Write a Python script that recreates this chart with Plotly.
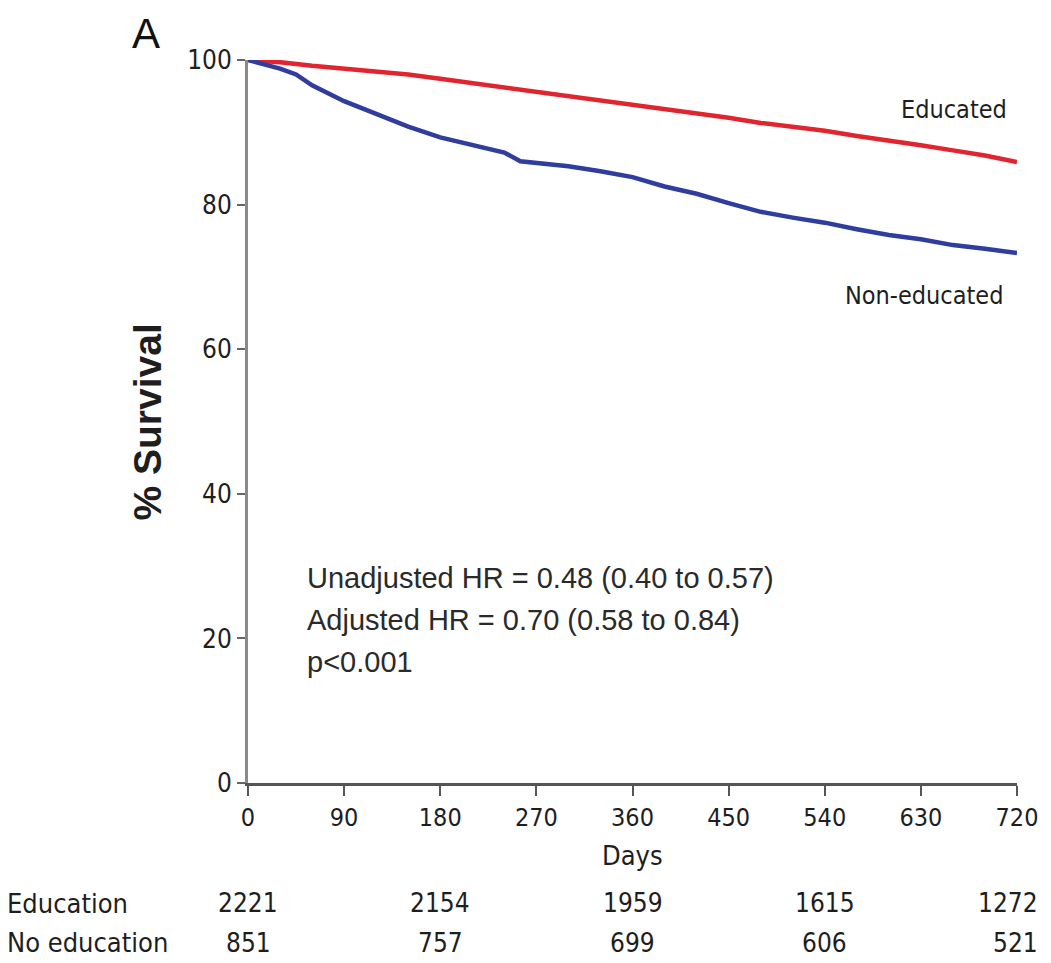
import plotly.graph_objects as go

# Kaplan-Meier survival estimates
days_edu = [0, 30, 60, 90, 120, 150, 180, 210, 240, 270, 300, 330, 360, 390,
            420, 450, 480, 510, 540, 570, 600, 630, 660, 690, 720]
surv_edu = [100, 99.7, 99.2, 98.8, 98.4, 98.0, 97.4, 96.8, 96.2, 95.6, 95.0,
            94.5, 93.9, 93.3, 92.6, 92.0, 91.3, 90.8, 90.2, 89.5, 88.9, 88.2,
            87.5, 86.8, 85.9]

days_nonedu = [0, 30, 45, 60, 90, 120, 150, 180, 210, 240, 255, 270, 300, 330,
               360, 390, 420, 450, 480, 510, 540, 570, 600, 630, 660, 690, 720]
surv_nonedu = [100, 98.8, 98.0, 96.5, 94.3, 92.6, 90.8, 89.3, 88.3, 87.2, 86.0,
               85.8, 85.3, 84.6, 83.8, 82.5, 81.5, 80.2, 79.0, 78.2, 77.5, 76.6,
               75.8, 75.2, 74.4, 73.9, 73.3]

x_ticks = [0, 90, 180, 270, 360, 450, 540, 630, 720]
y_ticks = [0, 20, 40, 60, 80, 100]

risk_days = [0, 180, 360, 540, 720]
risk_edu = [2221, 2154, 1959, 1615, 1272]
risk_nonedu = [851, 757, 699, 606, 521]

hr_lines = ["Unadjusted HR = 0.48 (0.40 to 0.57)",
            "Adjusted HR = 0.70 (0.58 to 0.84)",
            "p<0.001"]

NARROW = "DejaVu Sans Condensed, Liberation Sans Narrow, sans-serif"
ARIAL = "Liberation Sans, Arial, sans-serif"
TXT = "#1e1e1e"

fig = go.Figure()
fig.add_trace(go.Scatter(x=days_edu, y=surv_edu, mode="lines",
                         line=dict(color="#e0252f", width=4.5),
                         showlegend=False))
fig.add_trace(go.Scatter(x=days_nonedu, y=surv_nonedu, mode="lines",
                         line=dict(color="#2e3d9e", width=4.5),
                         showlegend=False))

# page body has an 8px margin, so the figure is 8px smaller than the window
fig.update_layout(
    width=1043, height=955,
    margin=dict(l=240, r=34, t=52, b=180),
    paper_bgcolor="white", plot_bgcolor="white",
    font=dict(family=NARROW, color=TXT, size=20),
)
fig.update_xaxes(range=[0, 720], tickvals=x_ticks, ticktext=[str(v) for v in x_ticks],
                 showline=True, linecolor="#555", linewidth=3,
                 ticks="outside", ticklen=10, tickwidth=2, tickcolor="#555",
                 showgrid=False, zeroline=False,
                 tickfont=dict(family=NARROW, size=25, color=TXT))
fig.update_yaxes(range=[0, 100], tickvals=y_ticks, ticktext=[str(v) for v in y_ticks],
                 showline=True, linecolor="#8a8a8a", linewidth=3,
                 ticks="outside", ticklen=8, tickwidth=2, tickcolor="#666",
                 showgrid=False, zeroline=False,
                 tickfont=dict(family=NARROW, size=26, color=TXT))

ann = []
ann.append(dict(text="A", xref="paper", yref="paper", x=-0.133, y=1.036,
                xanchor="center", yanchor="middle", showarrow=False,
                font=dict(family=ARIAL, size=42, color="#111")))
ann.append(dict(text="<b>% Survival</b>", xref="paper", yref="paper", x=-0.131, y=0.499,
                xanchor="center", yanchor="middle", showarrow=False, textangle=-90,
                font=dict(family=ARIAL, size=39, color=TXT)))
ann.append(dict(text="Days", xref="x", yref="paper", x=360, y=-0.0996,
                xanchor="center", yanchor="middle", showarrow=False,
                font=dict(family=NARROW, size=27, color=TXT)))
ann.append(dict(text="Educated", xref="paper", yref="y", x=0.99, y=93.2,
                xanchor="right", yanchor="middle", showarrow=False,
                font=dict(family=NARROW, size=25, color=TXT)))
ann.append(dict(text="Non-educated", xref="paper", yref="y", x=0.985, y=67.4,
                xanchor="right", yanchor="middle", showarrow=False,
                font=dict(family=NARROW, size=25, color=TXT)))
hr_y = [28.4, 22.5, 16.7]
for t, yy in zip(hr_lines, hr_y):
    ann.append(dict(text=t, xref="x", yref="y", x=53, y=yy,
                    xanchor="left", yanchor="middle", showarrow=False,
                    font=dict(family=ARIAL, size=29, color="#2a2a2a")))

row_y = [-0.166, -0.221]
ann.append(dict(text="Education", xref="paper", yref="paper", x=-0.316, y=row_y[0],
                xanchor="left", yanchor="middle", showarrow=False,
                font=dict(family=NARROW, size=27, color=TXT)))
ann.append(dict(text="No education", xref="paper", yref="paper", x=-0.316, y=row_y[1],
                xanchor="left", yanchor="middle", showarrow=False,
                font=dict(family=NARROW, size=27, color=TXT)))
for d, a, b in zip(risk_days, risk_edu, risk_nonedu):
    if d == risk_days[-1]:
        pos = dict(xref="paper", x=1.03, xanchor="right")
    else:
        pos = dict(xref="x", x=d, xanchor="center")
    ann.append(dict(text=str(a), yref="paper", y=row_y[0], yanchor="middle",
                    showarrow=False, font=dict(family=NARROW, size=26, color=TXT), **pos))
    ann.append(dict(text=str(b), yref="paper", y=row_y[1], yanchor="middle",
                    showarrow=False, font=dict(family=NARROW, size=26, color=TXT), **pos))
fig.update_layout(annotations=ann)

fig.write_html("out.html")
